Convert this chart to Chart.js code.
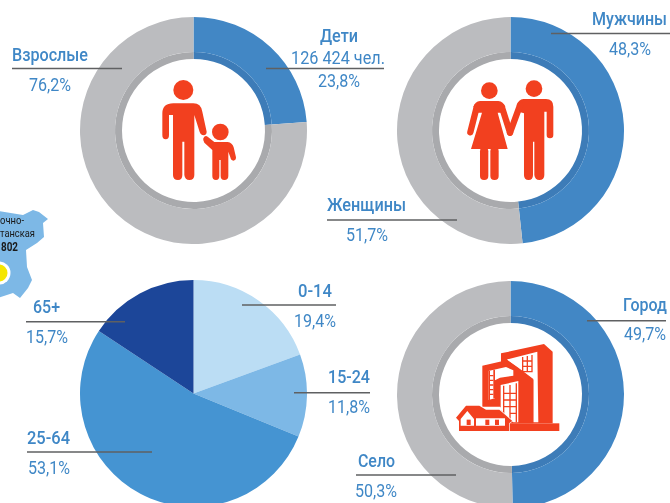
<!DOCTYPE html>
<html lang="ru">
<head>
<meta charset="utf-8">
<title>Население</title>
<script src="https://cdn.jsdelivr.net/npm/chart.js@4"></script>
<style>
html,body{margin:0;padding:0;background:#fff;width:670px;height:503px;overflow:hidden}
#stage{position:relative;width:670px;height:503px;overflow:hidden}
canvas{position:absolute;display:block}
#overlay{position:absolute;left:0;top:0;width:670px;height:503px}
#overlay text{font-family:Roboto,sans-serif}
</style>
</head>
<body>
<div id="stage">
<canvas id="c1" width="227" height="227" style="left:80px;top:17px"></canvas>
<canvas id="c2" width="227" height="227" style="left:397px;top:17px"></canvas>
<canvas id="c3" width="227" height="227" style="left:80px;top:280px"></canvas>
<canvas id="c4" width="227" height="227" style="left:397px;top:281px"></canvas>
<svg id="overlay" viewBox="0 0 670 503" xmlns="http://www.w3.org/2000/svg">
  <!-- region map fragment -->
  <path d="M-2 211 L23 215 L33 210 L39 212 L48 219 L43 223 L44 237 L37 243 L26 250 L27 267 L32 280 L28 288 L20 298 L13 293 L-2 298 Z" fill="#7DB8E6"/>
  <circle cx="-1" cy="273" r="11.5" fill="#fff"/>
  <circle cx="-1" cy="273" r="8.5" fill="#F5E600"/>
  <text x="0" y="224" font-size="11.5" fill="#1a1a1a" textLength="24" lengthAdjust="spacingAndGlyphs">очно-</text>
  <text x="0" y="237" font-size="11.5" fill="#1a1a1a" textLength="35" lengthAdjust="spacingAndGlyphs">танская</text>
  <text x="1" y="251" font-size="12" font-weight="700" fill="#1a1a1a" textLength="17" lengthAdjust="spacingAndGlyphs">802</text>

  <!-- parent and child -->
  <g transform="translate(155 70) scale(.3333)" fill="#F2401F">
    <circle cx="85" cy="60" r="30"/>
    <path d="M55 100H115Q138 100 142 125L155 185Q155 195 146 196Q138 196 134 186L118 135V315Q118 330 103 330Q90 330 88 315V215H82V315Q82 330 69 330Q54 330 54 315V135H42V195Q42 208 32 208Q22 208 22 195V130Q22 100 55 100Z"/>
    <circle cx="196" cy="186" r="25"/>
    <path d="M145 205Q150 195 158 200L178 216H218Q232 218 236 232L243 262Q243 272 235 272Q228 272 226 262L220 245V318Q220 330 208 330Q197 330 197 318V270H193V318Q193 330 183 330Q172 330 172 318V240L148 218Q143 212 145 205Z"/>
  </g>

  <!-- couple -->
  <g transform="translate(460 70) scale(.3333)" fill="#F2401F">
    <circle cx="88" cy="62" r="25"/>
    <circle cx="222" cy="56" r="25"/>
    <path d="M60 93H115Q130 95 136 110L124 128L113 128L143 237H33L66 128L52 128L40 110Q45 95 60 93Z"/>
    <rect x="60" y="232" width="25" height="98" rx="12"/>
    <rect x="91" y="232" width="25" height="98" rx="12"/>
    <path d="M190 87H258Q280 87 280 110V195Q280 205 270 205Q260 205 260 195V125H253V315Q253 330 238 330Q225 330 223 315V215H219V315Q219 330 206 330Q192 330 192 315V130L176 125L170 105Q176 88 190 87Z"/>
    <g stroke="#F2401F" stroke-width="19" stroke-linecap="round" fill="none">
      <path d="M50 112L31 187"/>
      <path d="M126 112L150 188"/>
      <path d="M180 106L150 188"/>
    </g>
  </g>

  <!-- town -->
  <g transform="translate(450 335) scale(.3333)">
    <path d="M153 55L282 27L308 50V265H153Z" fill="#F2401F"/>
    <path d="M172 73L262 50L265 262H250V135L205 100L172 76Z" fill="#fff"/>
    <g stroke="#F2401F" stroke-width="4" fill="none"><path d="M218 66V112M232 63V112M246 60V112M218 78H246M218 94H246M218 110H246"/></g>
    <path d="M97 92L172 75L205 98L250 132V265H180V240L150 215H97Z" fill="#F2401F"/>
    <path d="M115 108L168 96L190 106V122L150 128L135 136V190L115 195Z" fill="#fff"/>
    <path d="M115 108V195H120V108ZM130 104V190H135V104Z" fill="#F2401F"/>
    <g stroke="#F2401F" stroke-width="4" fill="none"><path d="M120 122H130M120 136H130M120 150H130M120 164H130M120 178H130"/></g>
    <path d="M152 150L205 138V262H190L152 225Z" fill="#fff"/>
    <g stroke="#F2401F" stroke-width="4" fill="none"><path d="M161 152V236M180 150V255M199 145V262M161 175H199M161 195H199M161 215H199M180 235H199"/></g>
    <rect x="180" y="265" width="148" height="23" fill="#F2401F"/>
    <path d="M18 248L48 212H88L108 224H148L187 258L178 264V288H27V258Z" fill="#F2401F" stroke="#fff" stroke-width="4" paint-order="stroke"/>
    <path d="M32 252L52 228L72 252V272H32Z M78 250H165V272H78Z" fill="#fff"/>
    <rect x="50" y="254" width="12" height="16" fill="#F2401F"/>
    <rect x="106" y="254" width="12" height="16" fill="#F2401F"/>
    <rect x="135" y="254" width="12" height="16" fill="#F2401F"/>
  </g>
  <g id="labels"></g>
</svg>
</div>
<script>
// Chart data
const ageLabels = ['Взрослые', 'Дети'];
const ageValues = [76.2, 23.8];
const childrenCount = '126 424 чел.';
const sexLabels = ['Мужчины', 'Женщины'];
const sexValues = [48.3, 51.7];
const cohortLabels = ['0-14', '15-24', '25-64', '65+'];
const cohortValues = [19.4, 11.8, 53.1, 15.7];
const placeLabels = ['Город', 'Село'];
const placeValues = [49.7, 50.3];

const BLUE = '#4287C5', BLUE_DARK = '#3D7CB8', GREY = '#BBBCBF', GREY_DARK = '#A9AAAD';
const COHORT_COLOURS = ['#BBDDF4', '#7DB8E6', '#4594D2', '#1C4699'];
const TEXT = '#3F87C6', RULE = '#5F6062';

const base = {
  responsive: false, animation: false, events: [],
  layout: { padding: 0 },
  plugins: { legend: { display: false }, tooltip: { enabled: false } }
};

function ring(id, labels, values, colours, darkColours) {
  new Chart(document.getElementById(id), {
    type: 'doughnut',
    data: {
      labels,
      datasets: [
        { data: values, backgroundColor: colours, borderWidth: 0, weight: 35 },
        { data: values, backgroundColor: darkColours, borderWidth: 0, weight: 7 }
      ]
    },
    options: { ...base, cutout: '63%' }
  });
}

// Order in each: the blue slice runs clockwise from 12 o'clock
ring('c1', [ageLabels[1], ageLabels[0]], [ageValues[1], ageValues[0]], [BLUE, GREY], [BLUE_DARK, GREY_DARK]);
ring('c2', sexLabels, sexValues, [BLUE, GREY], [BLUE_DARK, GREY_DARK]);
ring('c4', placeLabels, placeValues, [BLUE, GREY], [BLUE_DARK, GREY_DARK]);
new Chart(document.getElementById('c3'), {
  type: 'pie',
  data: { labels: cohortLabels, datasets: [{ data: cohortValues, backgroundColor: COHORT_COLOURS, borderWidth: 0 }] },
  options: base
});

const pct = v => v.toFixed(1).replace('.', ',') + '%';
const NS = 'http://www.w3.org/2000/svg';
const host = document.getElementById('labels');

function text(str, x1, x2, y, weight) {
  const t = document.createElementNS(NS, 'text');
  t.setAttribute('x', x1); t.setAttribute('y', y);
  t.setAttribute('font-size', 18.5); t.setAttribute('font-weight', weight);
  t.setAttribute('fill', TEXT);
  t.setAttribute('textLength', x2 - x1); t.setAttribute('lengthAdjust', 'spacingAndGlyphs');
  t.textContent = str;
  host.appendChild(t);
}
function rule(x1, x2, y) {
  const l = document.createElementNS(NS, 'line');
  l.setAttribute('x1', x1); l.setAttribute('x2', x2);
  l.setAttribute('y1', y); l.setAttribute('y2', y);
  l.setAttribute('stroke', RULE); l.setAttribute('stroke-width', 1.4);
  host.appendChild(l);
}
function callout(name, nx1, nx2, ny, lx1, lx2, ly, value, vx1, vx2, vy) {
  text(name, nx1, nx2, ny, 500);
  rule(lx1, lx2, ly);
  text(pct(value), vx1, vx2, vy, 400);
}

callout(ageLabels[0], 12, 88, 61, 12, 122, 68.5, ageValues[0], 29, 71, 91);
callout(ageLabels[1], 320, 358, 42, 266, 384, 68.5, ageValues[1], 318, 360, 87);
text(childrenCount, 291, 385, 64, 400);
callout(sexLabels[0], 592, 667, 25, 551, 670, 33.5, sexValues[0], 609, 651, 55);
callout(sexLabels[1], 327, 406, 211, 327, 457, 220, sexValues[1], 346, 388, 241);
callout(cohortLabels[0], 298, 332, 297, 242, 336, 305, cohortValues[0], 294, 336, 327);
callout(cohortLabels[1], 328, 370, 383, 294, 370, 392.7, cohortValues[1], 328, 370, 413);
callout(cohortLabels[2], 27, 70, 444, 27, 152, 452, cohortValues[2], 28, 70, 474);
callout(cohortLabels[3], 33, 60, 313, 26, 125, 321.7, cohortValues[3], 26, 68, 343);
callout(placeLabels[0], 623, 667, 311, 587, 666, 320.7, placeValues[0], 624, 666, 340);
callout(placeLabels[1], 358, 395, 467, 356, 456, 475, placeValues[1], 355, 397, 497);
</script>
</body>
</html>
